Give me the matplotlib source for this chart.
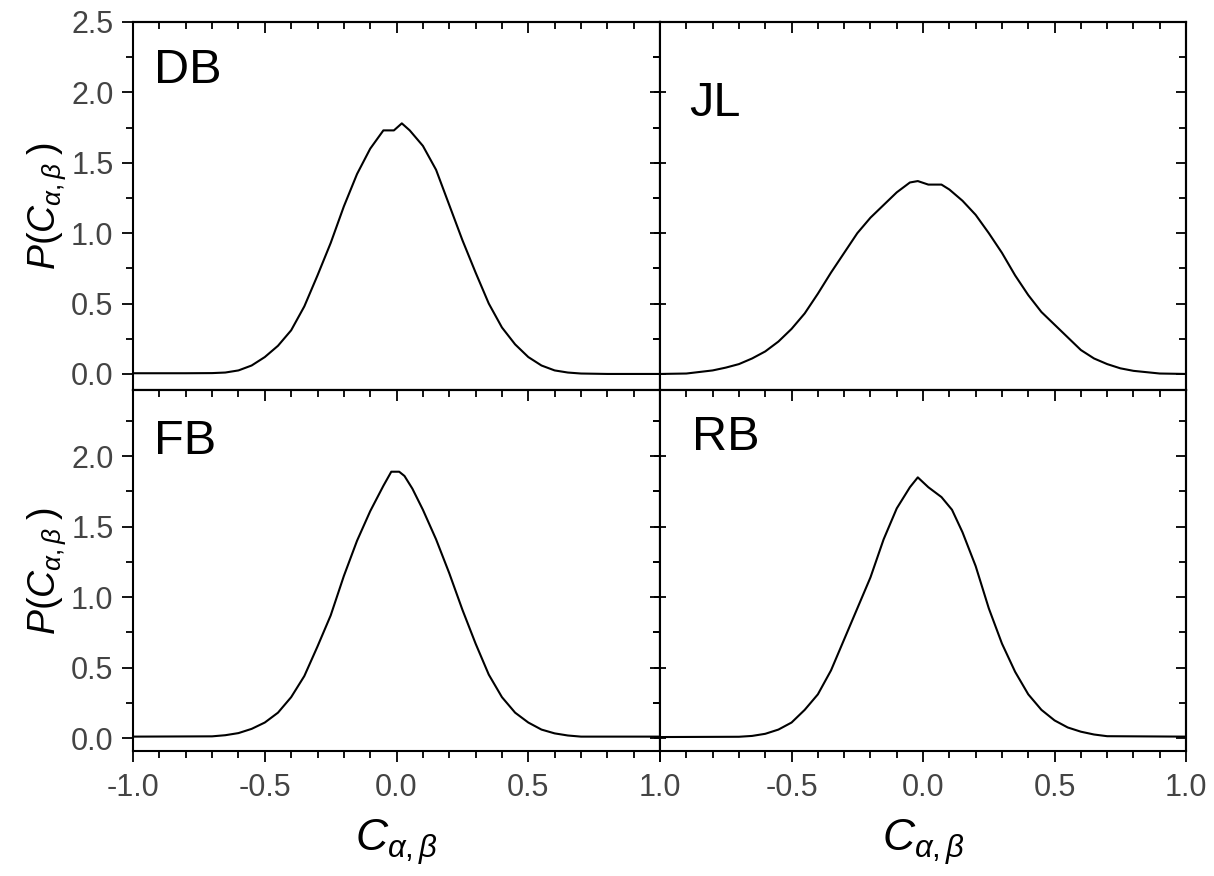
import numpy as np
import matplotlib
matplotlib.use("Agg")
import matplotlib.pyplot as plt
from matplotlib.ticker import MultipleLocator, NullFormatter

plt.rcParams['font.family'] = ['Liberation Sans', 'DejaVu Sans']
plt.rcParams['mathtext.fontset'] = 'custom'
plt.rcParams['mathtext.it'] = 'Liberation Sans:italic'
plt.rcParams['mathtext.rm'] = 'Liberation Sans'

# distributions of the correlation coefficient for each subject
db_x = [-1.0, -0.8, -0.7, -0.65, -0.6, -0.55, -0.5, -0.45, -0.4, -0.35, -0.3, -0.25,
        -0.2, -0.15, -0.1, -0.05, -0.01, 0.02, 0.05, 0.1, 0.15, 0.2, 0.25, 0.3,
        0.35, 0.4, 0.45, 0.5, 0.55, 0.6, 0.65, 0.7, 0.8, 1.0]
db_y = [0.005, 0.005, 0.006, 0.01, 0.025, 0.06, 0.12, 0.2, 0.31, 0.48, 0.7, 0.93,
        1.19, 1.42, 1.6, 1.73, 1.73, 1.78, 1.73, 1.62, 1.45, 1.2, 0.95, 0.72,
        0.5, 0.33, 0.21, 0.12, 0.06, 0.025, 0.01, 0.003, 0.0, 0.0]

jl_x = [-1.0, -0.9, -0.8, -0.75, -0.7, -0.65, -0.6, -0.55, -0.5, -0.45, -0.4, -0.35,
        -0.3, -0.25, -0.2, -0.15, -0.1, -0.05, -0.02, 0.02, 0.07, 0.1, 0.15, 0.2,
        0.25, 0.3, 0.35, 0.4, 0.45, 0.5, 0.55, 0.6, 0.65, 0.7, 0.75, 0.8, 0.9, 1.0]
jl_y = [0.0, 0.003, 0.025, 0.045, 0.07, 0.11, 0.16, 0.23, 0.32, 0.43, 0.57, 0.72,
        0.86, 1.0, 1.11, 1.2, 1.29, 1.36, 1.37, 1.345, 1.345, 1.31, 1.23, 1.13,
        1.0, 0.86, 0.7, 0.56, 0.44, 0.35, 0.26, 0.17, 0.11, 0.07, 0.04, 0.022, 0.003, 0.0]

fb_x = [-1.0, -0.7, -0.65, -0.6, -0.55, -0.5, -0.45, -0.4, -0.35, -0.3, -0.25, -0.2,
        -0.15, -0.1, -0.05, -0.02, 0.01, 0.03, 0.06, 0.1, 0.15, 0.2, 0.25, 0.3,
        0.35, 0.4, 0.45, 0.5, 0.55, 0.6, 0.65, 0.7, 1.0]
fb_y = [0.01, 0.012, 0.02, 0.035, 0.065, 0.11, 0.18, 0.29, 0.44, 0.65, 0.87, 1.15,
        1.4, 1.61, 1.79, 1.89, 1.89, 1.86, 1.77, 1.62, 1.41, 1.17, 0.91, 0.67,
        0.45, 0.29, 0.18, 0.11, 0.06, 0.033, 0.018, 0.01, 0.01]

rb_x = [-1.0, -0.7, -0.65, -0.6, -0.55, -0.5, -0.45, -0.4, -0.35, -0.3, -0.25, -0.2,
        -0.15, -0.1, -0.05, -0.02, 0.02, 0.07, 0.11, 0.15, 0.2, 0.25, 0.3, 0.35,
        0.4, 0.45, 0.5, 0.55, 0.6, 0.65, 0.7, 1.0]
rb_y = [0.007, 0.009, 0.015, 0.03, 0.06, 0.11, 0.2, 0.31, 0.48, 0.7, 0.92, 1.14,
        1.41, 1.63, 1.78, 1.85, 1.78, 1.71, 1.62, 1.46, 1.22, 0.92, 0.67, 0.47,
        0.31, 0.2, 0.125, 0.075, 0.045, 0.025, 0.013, 0.01]

panels = [
    ('DB', db_x, db_y),
    ('JL', jl_x, jl_y),
    ('FB', fb_x, fb_y),
    ('RB', rb_x, rb_y),
]
x_ticks = [-1.0, -0.5, 0.0, 0.5, 1.0]
y_ticks = [0.0, 0.5, 1.0, 1.5, 2.0, 2.5]

fig = plt.figure(figsize=(12.14, 8.76), dpi=100)
left, mid, right = 0.1096, 0.5437, 0.977
bottom, middle, top = 0.1427, 0.5548, 0.9749
boxes = [
    [left, middle, mid - left, top - middle],
    [mid, middle, right - mid, top - middle],
    [left, bottom, mid - left, middle - bottom],
    [mid, bottom, right - mid, middle - bottom],
]
ylims = [(-0.114, 2.5), (-0.114, 2.5), (-0.092, 2.47), (-0.092, 2.47)]
label_pos = [(0.04, 0.93), (0.055, 0.84), (0.04, 0.92), (0.06, 0.93)]

tick_col = '#444444'


def set_locators(axis_obj, major, minor):
    axis_obj.set_major_locator(MultipleLocator(major))
    axis_obj.set_minor_locator(MultipleLocator(minor))


for i, (name, xs, ys) in enumerate(panels):
    col = i % 2
    row = i // 2
    ax = fig.add_axes(boxes[i])
    ax.plot(xs, ys, color='black', lw=1.5)
    ax.set_xlim(-1.0, 1.0)
    ax.set_ylim(*ylims[i])
    set_locators(ax.xaxis, 0.5, 0.1)
    set_locators(ax.yaxis, 0.5, 0.25)
    for s in ax.spines.values():
        s.set_linewidth(1.5)
    ax.tick_params(which='both', top=False, right=False, direction='out', width=1.3,
                   labelsize=22, labelcolor=tick_col, pad=6)
    ax.tick_params(which='major', length=8)
    ax.tick_params(which='minor', length=5)

    # top and right edges carry inward ticks only
    sx = ax.secondary_xaxis('top')
    set_locators(sx.xaxis, 0.5, 0.1)
    sx.xaxis.set_major_formatter(NullFormatter())
    sx.tick_params(which='both', direction='in', width=1.3)
    sx.tick_params(which='major', length=8)
    sx.tick_params(which='minor', length=5)
    sy = ax.secondary_yaxis('right')
    set_locators(sy.yaxis, 0.5, 0.25)
    sy.yaxis.set_major_formatter(NullFormatter())
    sy.tick_params(which='both', direction='in', width=1.3)
    sy.tick_params(which='major', length=7)
    sy.tick_params(which='minor', length=5)
    for s in list(sx.spines.values()) + list(sy.spines.values()):
        s.set_linewidth(1.5)

    ax.text(label_pos[i][0], label_pos[i][1], name, transform=ax.transAxes,
            fontsize=35, color='black', va='top', ha='left')

    if row == 0:
        ax.tick_params(axis='x', labelbottom=False)
    else:
        ax.tick_params(axis='x', pad=8)
        ax.set_xticks(x_ticks)
        if col == 1:
            ax.set_xticklabels([''] + ['%.1f' % v for v in x_ticks[1:]])
        else:
            ax.set_xticklabels(['%.1f' % v for v in x_ticks])
        ax.set_xlabel(r'$C_{\alpha,\beta}$', fontsize=32, color='black', labelpad=10)
    if col == 1:
        ax.tick_params(axis='y', labelleft=False, direction='inout')
    else:
        yt = [v for v in y_ticks if v <= ylims[i][1]]
        ax.set_yticks(yt)
        ax.set_yticklabels(['%.1f' % v for v in yt])
        ax.set_ylabel(r'$P($' + r'$C_{\alpha,\beta}$' + r'$\;)$', fontsize=27,
                      color='black', labelpad=2)

fig.savefig('out.png', dpi=100)
